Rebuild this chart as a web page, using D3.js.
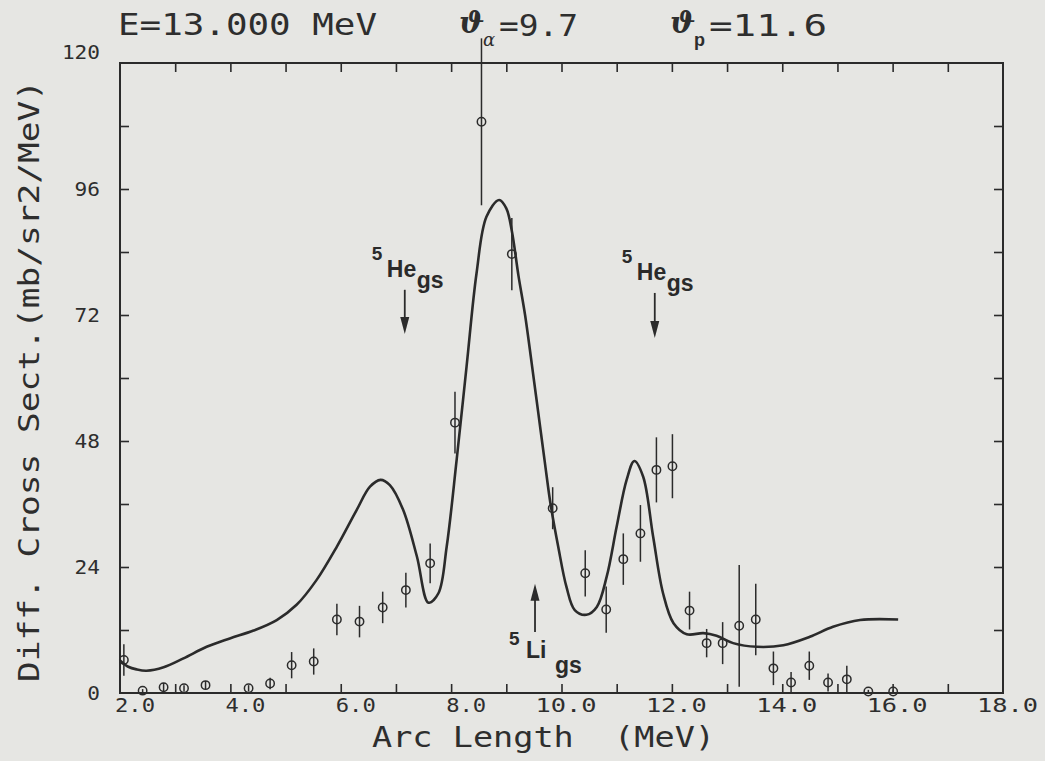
<!DOCTYPE html>
<html>
<head>
<meta charset="utf-8">
<script src="https://cdn.jsdelivr.net/npm/d3@7"></script>
<style>
  html, body { margin: 0; padding: 0; background: #e6e6e3; }
  svg { display: block; }
  .plot { font-family: "DejaVu Sans Mono", monospace; fill: #2e2e2e; }
  .mark { font-family: "Liberation Sans", Arial, sans-serif; font-weight: bold; fill: #2a2a2a; }
</style>
</head>
<body>
<svg id="chart" width="1045" height="761"></svg>
<script>
// Measured cross section: arc length (MeV), value (mb/sr2/MeV), error
const arcLength = [2.07, 2.41, 2.79, 3.16, 3.55, 4.33, 4.72, 5.11, 5.51, 5.93, 6.34, 6.76,
  7.18, 7.62, 8.07, 8.55, 9.10, 9.84, 10.43, 10.81, 11.12, 11.43, 11.72, 12.01,
  12.32, 12.63, 12.92, 13.22, 13.52, 13.84, 14.16, 14.49, 14.83, 15.17, 15.56, 16.01];
const crossSection = [6.3, 0.45, 1.1, 0.9, 1.5, 0.9, 1.8, 5.3, 6.0, 14.0, 13.6, 16.3,
  19.6, 24.7, 51.5, 108.8, 83.6, 35.2, 22.8, 15.9, 25.5, 30.4, 42.5, 43.2,
  15.7, 9.5, 9.5, 12.8, 14.0, 4.7, 2.0, 5.2, 2.0, 2.6, 0.3, 0.3];
const crossError = [3.0, 0.3, 0.8, 0.6, 0.8, 0.6, 1.1, 2.5, 2.5, 3.0, 3.0, 3.0,
  3.3, 3.8, 5.9, 15.9, 6.9, 4.0, 4.4, 4.4, 4.9, 5.4, 6.2, 6.1,
  3.6, 2.7, 4.0, 11.6, 6.8, 3.2, 2.0, 2.7, 1.7, 2.6, 0.3, 0.3];

// R-matrix calculation
const fitArc = [2.00, 2.15, 2.30, 2.48, 2.79, 3.15, 3.57, 3.99, 4.42, 4.84, 5.20, 5.56,
  5.93, 6.29, 6.53, 6.72, 6.89, 7.13, 7.38, 7.59, 7.77, 7.92, 8.10, 8.28,
  8.46, 8.64, 8.87, 9.00, 9.10, 9.22, 9.34, 9.46, 9.58, 9.70, 9.80, 9.94,
  10.09, 10.24, 10.45, 10.64, 10.82, 11.00, 11.18, 11.32, 11.48, 11.66, 11.84, 12.03,
  12.27, 12.57, 12.81, 13.11, 13.54, 14.02, 14.50, 14.92, 15.41, 16.10];
const fitValue = [6.2, 5.0, 4.5, 4.25, 4.9, 6.6, 8.8, 10.4, 11.9, 13.9, 16.8, 21.5,
  27.9, 34.9, 39.3, 40.6, 39.6, 34.9, 26.0, 17.2, 19.0, 27.9, 44.4, 62.2,
  79.9, 90.7, 93.9, 92.3, 88.0, 79.5, 72.0, 62.8, 53.3, 43.8, 36.1, 27.9,
  20.2, 15.8, 14.9, 16.4, 22.2, 31.7, 40.6, 44.2, 41.2, 29.8, 19.0, 13.3,
  11.2, 11.4, 10.9, 9.5, 8.8, 9.1, 10.7, 12.6, 13.9, 14.0];

// Axis ticks
const xMajorTicks = [2, 4, 6, 8, 10, 12, 14, 16, 18];
const xMinorTicks = [3, 4, 5, 6, 7, 8, 9, 10, 11, 12, 13, 14, 15, 16, 17];
const yMajorTicks = [0, 24, 48, 72, 96, 120];
const yMinorTicks = [12, 24, 36, 48, 60, 72, 84, 96, 108];

// Ground states: nucleus, element, energy, arrow from/to values
const stateNucleus = ["5", "5", "5"];
const stateElement = ["He", "He", "Li"];
const stateEnergy = [7.16, 11.69, 9.52];
const stateFrom = [76.8, 76.2, 11.6];
const stateTo = [68.4, 67.6, 20.8];

const ink = "#2b2b2b";
const svg = d3.select("#chart");
const frameLeft = 120, frameRight = 1003, frameTop = 63, frameBottom = 693;

const x = d3.scaleLinear().domain([2, 18]).range([frameLeft, frameRight]);
const y = d3.scaleLinear().domain([0, 120]).range([frameBottom, frameTop]);

// inward ticks on all four sides
function styleAxis(g) {
  g.select(".domain").remove();
  g.selectAll(".tick line").attr("stroke", ink).attr("stroke-width", 1.6);
}
svg.append("g").attr("transform", `translate(0,${frameBottom})`)
  .call(d3.axisBottom(x).tickValues(xMinorTicks).tickSize(-9).tickFormat(""))
  .call(styleAxis);
svg.append("g").attr("transform", `translate(0,${frameTop})`)
  .call(d3.axisTop(x).tickValues(xMinorTicks).tickSize(-9).tickFormat(""))
  .call(styleAxis);
svg.append("g").attr("transform", `translate(${frameLeft},0)`)
  .call(d3.axisLeft(y).tickValues(yMinorTicks).tickSize(-9).tickFormat(""))
  .call(styleAxis);
svg.append("g").attr("transform", `translate(${frameRight},0)`)
  .call(d3.axisRight(y).tickValues(yMinorTicks).tickSize(-9).tickFormat(""))
  .call(styleAxis);

svg.append("rect")
  .attr("x", frameLeft).attr("y", frameTop)
  .attr("width", frameRight - frameLeft).attr("height", frameBottom - frameTop)
  .attr("fill", "none").attr("stroke", ink).attr("stroke-width", 2);

// tick labels
const fmtX = d3.format(".1f");
svg.append("g").selectAll("text").data(xMajorTicks).join("text")
  .attr("class", "plot")
  .attr("x", d => x(d) + 35)
  .attr("y", 712)
  .attr("text-anchor", "end")
  .attr("font-size", 20)
  .attr("textLength", d => fmtX(d).length > 3 ? 61 : 40)
  .attr("lengthAdjust", "spacingAndGlyphs")
  .text(d => fmtX(d));

svg.append("g").selectAll("text").data(yMajorTicks).join("text")
  .attr("class", "plot")
  .attr("x", 100)
  .attr("y", d => y(d) + 7 - (d === 120 ? 11 : 0))
  .attr("text-anchor", "end")
  .attr("font-size", 20)
  .attr("textLength", d => String(d).length * 12.7)
  .attr("lengthAdjust", "spacingAndGlyphs")
  .text(d => String(d));

// axis titles
svg.append("text").attr("class", "plot")
  .attr("x", 372).attr("y", 747)
  .attr("font-size", 29)
  .attr("textLength", 343).attr("lengthAdjust", "spacingAndGlyphs")
  .attr("xml:space", "preserve")
  .text("Arc Length  (MeV)");

svg.append("text").attr("class", "plot")
  .attr("transform", "translate(39,682) rotate(-90)")
  .attr("font-size", 29)
  .attr("textLength", 602).attr("lengthAdjust", "spacingAndGlyphs")
  .text("Diff. Cross Sect.(mb/sr2/MeV)");

// header line
svg.append("text").attr("class", "plot")
  .attr("x", 118).attr("y", 35)
  .attr("font-size", 30)
  .attr("textLength", 259).attr("lengthAdjust", "spacingAndGlyphs")
  .text("E=13.000 MeV");

function angleLabel(x0, sub, italicSub) {
  svg.append("text").attr("x", x0).attr("y", 33).attr("fill", "#2e2e2e")
    .attr("font-family", "DejaVu Serif, serif").attr("font-style", "italic")
    .attr("font-weight", "bold").attr("font-size", 30).text("\u03D1");
  const s = svg.append("text").attr("x", x0 + 24).attr("y", 46)
    .attr("fill", "#2e2e2e").attr("font-size", 18).text(sub);
  if (italicSub) {
    s.attr("font-family", "DejaVu Serif, serif").attr("font-style", "italic");
  } else {
    s.attr("font-family", "Liberation Sans, sans-serif").attr("font-weight", "bold");
  }
}
angleLabel(459, "\u03B1", true);
svg.append("text").attr("class", "plot")
  .attr("x", 499).attr("y", 36).attr("font-size", 30)
  .attr("textLength", 79).attr("lengthAdjust", "spacingAndGlyphs")
  .text("=9.7");
angleLabel(670, "p", false);
svg.append("text").attr("class", "plot")
  .attr("x", 709).attr("y", 36).attr("font-size", 30)
  .attr("textLength", 118).attr("lengthAdjust", "spacingAndGlyphs")
  .text("=11.6");

// calculation curve
const line = d3.line()
  .x((d, i) => x(fitArc[i]))
  .y(d => y(d))
  .curve(d3.curveCatmullRom.alpha(0.5));
svg.append("path")
  .attr("d", line(fitValue))
  .attr("fill", "none").attr("stroke", ink).attr("stroke-width", 2.6)
  .attr("stroke-linejoin", "round");

// measured points with error bars
const pts = arcLength.map((a, i) => ({ a, v: crossSection[i], e: crossError[i] }));
const pg = svg.append("g").attr("stroke", ink).attr("stroke-width", 1.5).attr("fill", "none");
pg.selectAll("line").data(pts).join("line")
  .attr("x1", d => x(d.a)).attr("x2", d => x(d.a))
  .attr("y1", d => y(Math.max(0, d.v - d.e)))
  .attr("y2", d => y(d.v + d.e));
pg.selectAll("circle").data(pts).join("circle")
  .attr("cx", d => x(d.a)).attr("cy", d => y(d.v)).attr("r", 4.2);

// ground-state markers
stateEnergy.forEach((en, i) => {
  const ax = x(en);
  const y0 = y(stateFrom[i]), y1 = y(stateTo[i]);
  const dir = y1 > y0 ? 1 : -1;
  const head = 17;
  svg.append("line")
    .attr("x1", ax).attr("x2", ax)
    .attr("y1", y0).attr("y2", y1 - dir * head + dir * 2)
    .attr("stroke", ink).attr("stroke-width", 1.8);
  svg.append("path")
    .attr("d", `M${ax - 4.5},${y1 - dir * head} L${ax + 4.5},${y1 - dir * head} L${ax},${y1} Z`)
    .attr("fill", ink);

  const g = svg.append("g");
  if (dir > 0) {
    // label above a downward arrow
    g.append("text").attr("class", "mark").attr("x", ax - 33).attr("y", y0 - 30)
      .attr("font-size", 19).text(stateNucleus[i]);
    g.append("text").attr("class", "mark").attr("x", ax - 18).attr("y", y0 - 13)
      .attr("font-size", 23).text(stateElement[i]);
    g.append("text").attr("class", "mark").attr("x", ax + 12).attr("y", y0 - 2)
      .attr("font-size", 23).text("gs");
  } else {
    // label below an upward arrow
    g.append("text").attr("class", "mark").attr("x", ax - 26).attr("y", y0 + 13)
      .attr("font-size", 19).text(stateNucleus[i]);
    g.append("text").attr("class", "mark").attr("x", ax - 9).attr("y", y0 + 26)
      .attr("font-size", 23).text(stateElement[i]);
    g.append("text").attr("class", "mark").attr("x", ax + 20).attr("y", y0 + 41)
      .attr("font-size", 23).text("gs");
  }
});
</script>
</body>
</html>
